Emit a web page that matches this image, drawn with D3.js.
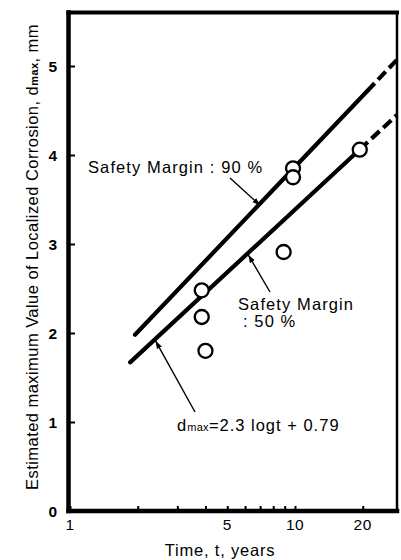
<!DOCTYPE html>
<html>
<head>
<meta charset="utf-8">
<script src="https://cdn.jsdelivr.net/npm/d3@7"></script>
<style>
  html, body { margin: 0; padding: 0; background: #fff; }
  svg { display: block; }
  text { font-family: "Liberation Sans", Arial, Helvetica, sans-serif; fill: #000; }
</style>
</head>
<body>
<svg id="chart" width="401" height="560"></svg>
<script>
// Observed maximum pit depths (years, mm)
const obsTime  = [3.85, 3.85, 4.0, 8.9, 9.8, 9.8, 19.4];
const obsDepth = [2.48, 2.18, 1.80, 2.91, 3.85, 3.75, 4.06];

// Estimated maximum depth lines: [start, end of solid part, end of dashed extrapolation]
const line90Time  = [1.945, 20.9, 28.4];
const line90Depth = [1.98, 4.66, 5.07];
const line50Time  = [1.85, 19.4, 28.4];
const line50Depth = [1.67, 4.06, 4.45];

const xTickValues = [1, 2, 3, 4, 5, 6, 7, 8, 9, 10, 20];
const xTickLabels = ["1", "", "", "", "5", "", "", "", "", "10", "20"];
const yTickValues = [0, 1, 2, 3, 4, 5];

const svg = d3.select("#chart");
const x = d3.scaleLog().domain([1, 28.4]).range([70, 397]);
const y = d3.scaleLinear().domain([0, 5]).range([511, 66]);
const yTop = 12.5;

// depth at a given time, interpolated linearly in log-time along a line
function depthAt(times, depths, t) {
  const f = (Math.log10(t) - Math.log10(times[0])) / (Math.log10(times[2]) - Math.log10(times[0]));
  return depths[0] + f * (depths[2] - depths[0]);
}

const defs = svg.append("defs");
defs.append("marker")
  .attr("id", "arrow")
  .attr("viewBox", "0 0 10 10")
  .attr("refX", 10).attr("refY", 5)
  .attr("markerWidth", 8).attr("markerHeight", 8)
  .attr("markerUnits", "userSpaceOnUse")
  .attr("orient", "auto")
  .append("path").attr("d", "M0,1.5 L10,5 L0,8.5 Z").attr("fill", "#000");

// ticks (inside the frame)
const xAxis = d3.axisBottom(x).tickValues(xTickValues).tickSize(-5).tickFormat("");
svg.append("g").attr("transform", `translate(0,${y(0)})`).call(xAxis)
  .call(g => g.select(".domain").remove())
  .call(g => g.selectAll("line").attr("stroke-width", 2));
const yAxis = d3.axisLeft(y).tickValues(yTickValues).tickSize(-5).tickFormat("");
svg.append("g").attr("transform", `translate(${x(1)},0)`).call(yAxis)
  .call(g => g.select(".domain").remove())
  .call(g => g.selectAll("line").attr("stroke-width", 2));

// tick labels
svg.append("g").selectAll("text").data(xTickValues.filter((d, i) => xTickLabels[i]))
  .join("text")
  .attr("x", d => x(d)).attr("y", 530)
  .attr("text-anchor", "middle").attr("font-size", 15.5).attr("letter-spacing", 0.5)
  .text(d => xTickLabels[xTickValues.indexOf(d)]);
svg.append("g").selectAll("text").data(yTickValues)
  .join("text")
  .attr("x", 57).attr("y", d => y(d) + 5.5)
  .attr("text-anchor", "end").attr("font-size", 15.5).attr("font-weight", "bold")
  .text(d => d);

// frame
const frame = svg.append("g").attr("stroke", "#000").attr("fill", "none").attr("stroke-linecap", "square");
frame.append("line").attr("x1", x(1) - 1.5).attr("x2", x(1) - 1.5).attr("y1", yTop).attr("y2", y(0)).attr("stroke-width", 4.5);
frame.append("line").attr("x1", x(1) - 1.5).attr("x2", 397).attr("y1", y(0)).attr("y2", y(0)).attr("stroke-width", 4.5);
frame.append("line").attr("x1", x(1) - 1.5).attr("x2", 397).attr("y1", yTop).attr("y2", yTop).attr("stroke-width", 4);
frame.append("line").attr("x1", 397).attr("x2", 397).attr("y1", yTop).attr("y2", y(0)).attr("stroke-width", 2.5);

// estimation lines
function drawLine(times, depths) {
  const solid = [[times[0], depths[0]], [times[1], depthAt(times, depths, times[1])]];
  const dashed = [[times[1], depthAt(times, depths, times[1])], [times[2], depths[2]]];
  const gen = d3.line().x(d => x(d[0])).y(d => y(d[1]));
  svg.append("path").attr("d", gen(solid)).attr("stroke", "#000").attr("stroke-width", 4.2)
    .attr("fill", "none").attr("stroke-linecap", "round");
  svg.append("path").attr("d", gen(dashed)).attr("stroke", "#000").attr("stroke-width", 4.2)
    .attr("fill", "none").attr("stroke-dasharray", "11,5");
}
drawLine(line90Time, line90Depth);
drawLine(line50Time, line50Depth);

// observations
svg.append("g").selectAll("circle").data(obsTime)
  .join("circle")
  .attr("cx", d => x(d)).attr("cy", (d, i) => y(obsDepth[i]))
  .attr("r", 7).attr("fill", "#fff").attr("stroke", "#000").attr("stroke-width", 2.3);

// annotations
const fs = 16.5;
svg.append("text").attr("x", 88).attr("y", 173).attr("font-size", fs)
  .attr("letter-spacing", 1.1).text("Safety Margin : 90 %");
svg.append("line").attr("x1", 230).attr("y1", 178).attr("x2", x(7.0)).attr("y2", y(depthAt(line90Time, line90Depth, 7.0)) + 2)
  .attr("stroke", "#000").attr("stroke-width", 1.4).attr("marker-end", "url(#arrow)");

svg.append("text").attr("x", 238).attr("y", 310).attr("font-size", fs)
  .attr("letter-spacing", 1.1).text("Safety Margin");
svg.append("text").attr("x", 243).attr("y", 327).attr("font-size", fs)
  .attr("letter-spacing", 1.1).text(": 50 %");
svg.append("line").attr("x1", 270).attr("y1", 292).attr("x2", x(6.2)).attr("y2", y(depthAt(line50Time, line50Depth, 6.2)) + 2)
  .attr("stroke", "#000").attr("stroke-width", 1.4).attr("marker-end", "url(#arrow)");

const eq = svg.append("text").attr("x", 177).attr("y", 431).attr("font-size", fs).attr("letter-spacing", 1.0);
eq.append("tspan").text("d");
eq.append("tspan").attr("font-size", 11).attr("letter-spacing", 0.3).text("max");
eq.append("tspan").text("=2.3 logt + 0.79");
svg.append("line").attr("x1", 195).attr("y1", 412).attr("x2", x(2.4)).attr("y2", y(depthAt(line50Time, line50Depth, 2.4)) + 2)
  .attr("stroke", "#000").attr("stroke-width", 1.4).attr("marker-end", "url(#arrow)");

// axis titles
svg.append("text").attr("x", 220).attr("y", 556).attr("text-anchor", "middle")
  .attr("font-size", fs).attr("letter-spacing", 0.8).text("Time, t, years");
const yt = svg.append("text").attr("transform", "translate(38,257) rotate(-90)")
  .attr("text-anchor", "middle").attr("font-size", fs).attr("letter-spacing", 0.45);
yt.append("tspan").text("Estimated maximum Value of Localized Corrosion, d");
yt.append("tspan").attr("font-size", 11).attr("font-weight", "bold").text("max");
yt.append("tspan").text(", mm");
</script>
</body>
</html>
